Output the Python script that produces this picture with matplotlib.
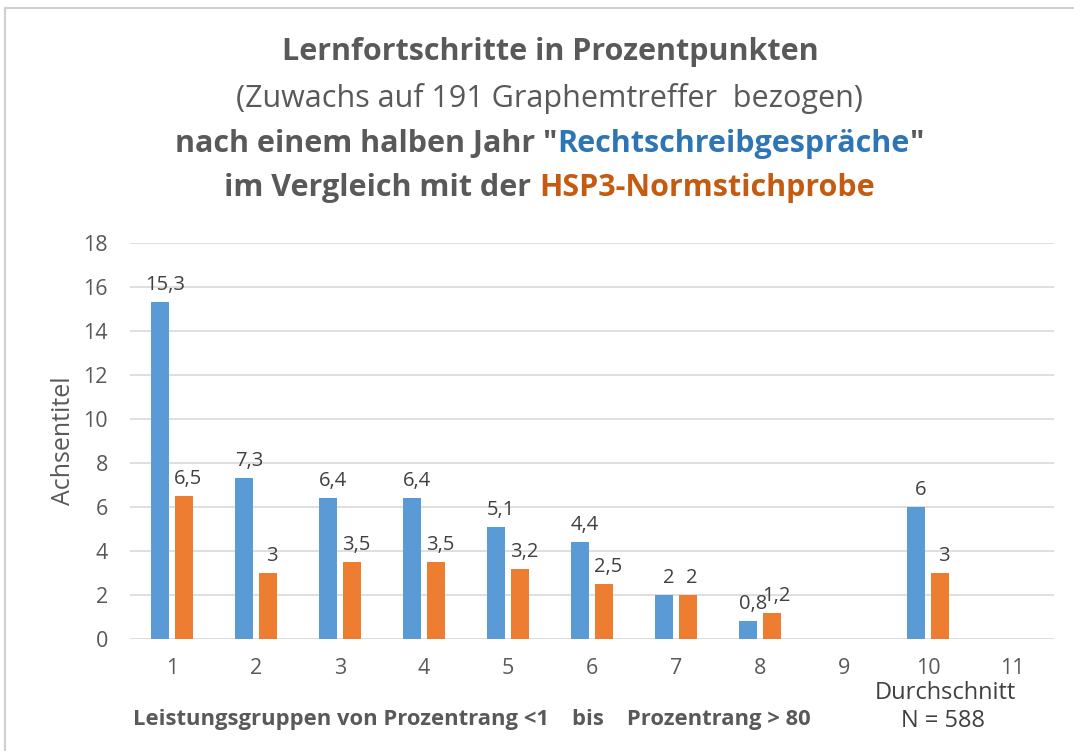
"""Lernfortschritte in Prozentpunkten: Rechtschreibgespraeche vs. HSP3-Normstichprobe"""

import numpy as np
import matplotlib.pyplot as plt
from matplotlib.patches import Rectangle

plt.rcParams['font.family'] = ['Open Sans', 'DejaVu Sans']

GROUPS = list(range(1, 12))
GESPRAECHE = [15.3, 7.3, 6.4, 6.4, 5.1, 4.4, 2, 0.8, np.nan, 6, np.nan]
NORM = [6.5, 3, 3.5, 3.5, 3.2, 2.5, 2, 1.2, np.nan, 3, np.nan]

BLUE = "#5B9BD5"
ORANGE = "#ED7D31"
GREY = "#595959"
GRID = "#D9D9D9"


def fmt(v):
    return ("%g" % v).replace(".", ",")


def colored_line(fig, y, parts, size, weight):
    """draw one centred title line built from differently coloured pieces"""
    r = fig.canvas.get_renderer()
    texts = [fig.text(0, y, s, color=c, fontsize=size, fontweight=weight,
                      ha="left", va="center") for s, c in parts]
    widths = [t.get_window_extent(r).width / fig.bbox.width for t in texts]
    x = 0.5 * (1 + 0.023) - sum(widths) / 2
    for t, w in zip(texts, widths):
        t.set_x(x)
        x += w


fig = plt.figure(figsize=(10.74, 7.51), dpi=100)
fig.patches.append(Rectangle((5 / 1074, -0.1), 1.2, 1 - 8 / 751 + 0.1,
                             transform=fig.transFigure, fill=False,
                             edgecolor="#D0D0D0", linewidth=1.5))

ax = fig.add_axes([130 / 1074, 1 - 639 / 751, 924 / 1074, 396 / 751])

x = np.array(GROUPS)
w = 0.225
off = 0.143
ax.bar(x - off, GESPRAECHE, w, color=BLUE, zorder=3)
ax.bar(x + off, NORM, w, color=ORANGE, zorder=3)

for xi, v in zip(x, GESPRAECHE):
    if not np.isnan(v):
        ax.annotate(fmt(v), (xi - off + 0.06, v), xytext=(0, 5), textcoords="offset points",
                    ha="center", va="bottom", fontsize=14.5, color="#404040")
for xi, v in zip(x, NORM):
    if not np.isnan(v):
        ax.annotate(fmt(v), (xi + off + 0.05, v), xytext=(0, 5), textcoords="offset points",
                    ha="center", va="bottom", fontsize=14.5, color="#404040")

ax.set_xlim(0.5, 11.5)
ax.set_ylim(0, 18)
ax.set_yticks(range(0, 19, 2))
ax.set_xticks(GROUPS)
ax.tick_params(length=0, labelsize=15.5, labelcolor=GREY, pad=14)
ax.tick_params(axis="y", pad=16)
ax.grid(axis="y", color=GRID, linewidth=1.2, zorder=0)
for s in ax.spines.values():
    s.set_visible(False)
ax.set_ylabel("Achsentitel", fontsize=18, color=GREY, labelpad=5)

fig.text(0.5 + 0.012, 1 - 52 / 751, "Lernfortschritte in Prozentpunkten",
         ha="center", va="center", fontsize=22, fontweight="bold", color=GREY)
fig.text(0.5 + 0.012, 1 - 99 / 751, "(Zuwachs auf 191 Graphemtreffer  bezogen)",
         ha="center", va="center", fontsize=22, color=GREY)
colored_line(fig, 1 - 144 / 751, [('nach einem halben Jahr "', GREY),
                                  ("Rechtschreibgespräche", "#2E75B6"),
                                  ('"', GREY)], 22, "bold")
colored_line(fig, 1 - 188 / 751, [("im Vergleich mit der ", GREY),
                                  ("HSP3-Normstichprobe", "#C55A11")], 22, "bold")

fig.text(945 / 1074, 1 - 693 / 751, "Durchschnitt", ha="center", va="center",
         fontsize=17, color="#404040")
fig.text(943 / 1074, 1 - 721 / 751, "N = 588", ha="center", va="center",
         fontsize=17, color="#404040")
fig.text(133 / 1074, 1 - 720 / 751,
         "Leistungsgruppen von Prozentrang <1    bis    Prozentrang > 80",
         ha="left", va="center", fontsize=15.8, fontweight="bold", color=GREY)

plt.savefig("out.png", dpi=100)
